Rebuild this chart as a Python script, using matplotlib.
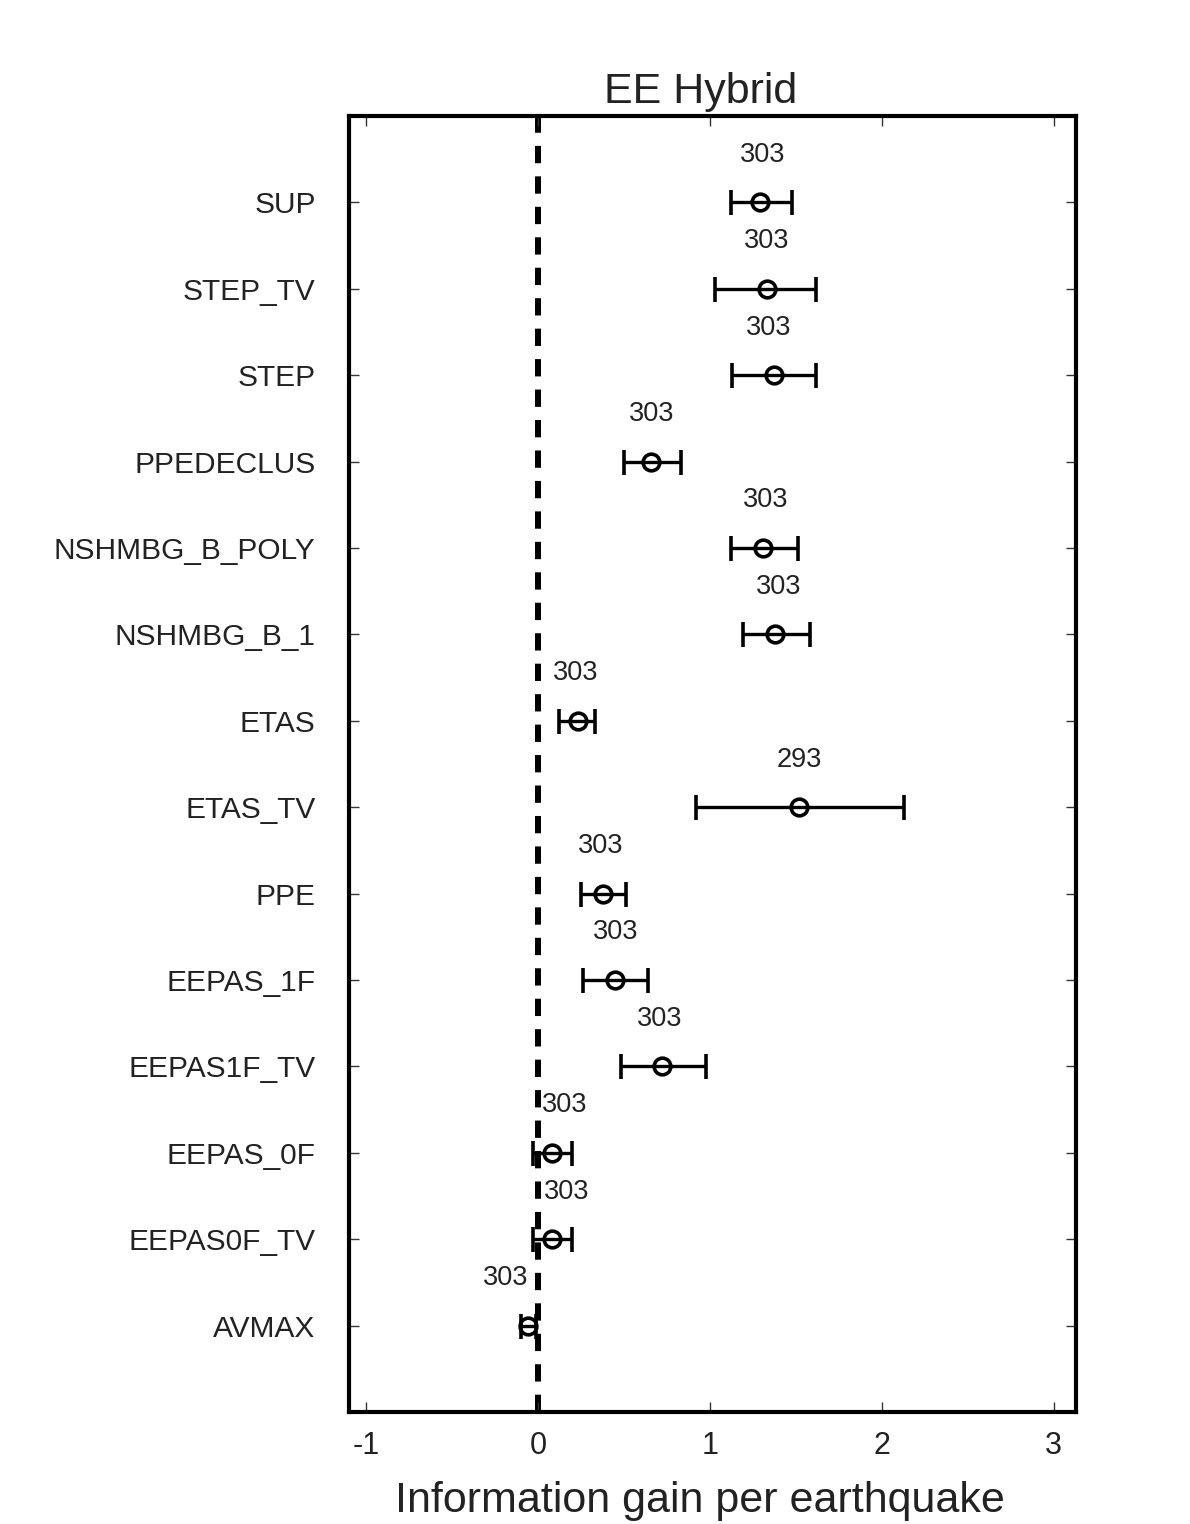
import matplotlib
matplotlib.use("Agg")
import matplotlib.pyplot as plt
import numpy as np

models = ["SUP", "STEP_TV", "STEP", "PPEDECLUS", "NSHMBG_B_POLY", "NSHMBG_B_1",
          "ETAS", "ETAS_TV", "PPE", "EEPAS_1F", "EEPAS1F_TV", "EEPAS_0F",
          "EEPAS0F_TV", "AVMAX"]
gain = [1.29, 1.33, 1.37, 0.66, 1.31, 1.38, 0.23, 1.52, 0.38, 0.45, 0.72, 0.08, 0.08, -0.06]
lower = [1.12, 1.03, 1.13, 0.50, 1.12, 1.19, 0.12, 0.92, 0.25, 0.26, 0.48, -0.03, -0.03, -0.10]
upper = [1.48, 1.62, 1.62, 0.83, 1.51, 1.58, 0.33, 2.13, 0.51, 0.64, 0.98, 0.20, 0.20, -0.01]
counts = [303, 303, 303, 303, 303, 303, 303, 293, 303, 303, 303, 303, 303, 303]
xticks = [-1, 0, 1, 2, 3]

# label horizontal nudges (pixels)
label_dx = [3, 0, -5, 0, 2, 3, -2, 0, -3, 0, -2, 13, 15, -22]

plt.rcParams['font.family'] = ['Liberation Sans', 'DejaVu Sans']
txtc = '#222222'

fig = plt.figure(figsize=(11.9, 15.24), dpi=100)
ax = fig.add_axes([349/1190, 1 - 1412/1524, (1076-349)/1190, (1412-116)/1524])

y = np.arange(1, len(models) + 1)
g = np.array(gain); lo = np.array(lower); up = np.array(upper)
xerr = np.vstack([g - lo, up - g])

ax.axvline(0, color='black', lw=4.3, dashes=(2.9, 2.2), zorder=1)
ax.errorbar(g, y, xerr=xerr, fmt='o', color='black', ecolor='black',
            elinewidth=2.4, capsize=9, capthick=1.0, markersize=12,
            markerfacecolor='none', markeredgewidth=2.6, zorder=3)

for i in range(len(models)):
    ax.annotate(str(counts[i]), xy=(g[i], y[i] - 0.55), xytext=(label_dx[i] * 0.72, 0),
                textcoords='offset points', ha='center', va='center',
                fontsize=19.5, color=txtc)

ax.set_xlim(-1.1, 3.13)
ax.set_ylim(15, 0)
ax.set_xticks(xticks)
ax.set_xticklabels([str(t) for t in xticks], fontsize=22, color=txtc)
ax.set_yticks(y)
ax.set_yticklabels(models, fontsize=21.5, color=txtc)
ax.tick_params(axis='both', direction='in', length=7, width=1, top=True, right=True,
               color='#333333')
ax.tick_params(axis='x', pad=14)
ax.tick_params(axis='y', pad=24)
for s in ax.spines.values():
    s.set_linewidth(3)
ax.set_title("EE Hybrid", fontsize=31, color=txtc, pad=9, x=0.483)
ax.set_xlabel("Information gain per earthquake", fontsize=31, color=txtc,
              labelpad=14, x=0.483)

fig.savefig("out.png", dpi=100, facecolor='white')
